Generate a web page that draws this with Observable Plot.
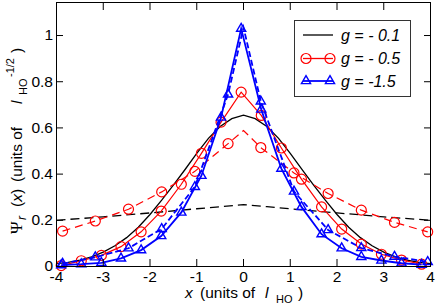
<!DOCTYPE html>
<html><head><meta charset="utf-8">
<script src="https://cdn.jsdelivr.net/npm/d3@7"></script>
<script src="https://cdn.jsdelivr.net/npm/@observablehq/plot@0.6"></script>
<style>body{margin:0;background:#fff} #chart{width:436px;height:306px}</style>
</head><body><div id="chart"></div>
<script>
// ---- data ----
const xTicks = [-4, -3, -2, -1, 0, 1, 2, 3, 4];
const xTickLabels = ["-4", "-3", "-2", "-1", "0", "1", "2", "3", "4"];
const yTicks = [0, 0.2, 0.4, 0.6, 0.8, 1];
const yTickLabels = ["0", "0.2", "0.4", "0.6", "0.8", "1"];

// g = -0.1 (black)
const blackX = [-4, -3.75, -3.5, -3.25, -3, -2.75, -2.5, -2.25, -2, -1.75, -1.5, -1.25, -1, -0.75, -0.5, -0.25, 0,
                0.25, 0.5, 0.75, 1, 1.25, 1.5, 1.75, 2, 2.25, 2.5, 2.75, 3, 3.25, 3.5, 3.75, 4];
const blackSolidY = [0.012, 0.018, 0.028, 0.042, 0.062, 0.09, 0.125, 0.17, 0.225, 0.287, 0.352, 0.42, 0.49, 0.555, 0.606, 0.64, 0.655,
                     0.64, 0.606, 0.555, 0.49, 0.42, 0.352, 0.287, 0.225, 0.17, 0.125, 0.09, 0.062, 0.042, 0.028, 0.018, 0.012];
const blackDashX = [-4, -3, -2, -1, -0.5, 0, 0.5, 1, 2, 3, 4];
const blackDashY = [0.2, 0.215, 0.232, 0.25, 0.259, 0.268, 0.259, 0.25, 0.232, 0.215, 0.2];

// grid of the solid curves with markers
const solidX = [-3.9, -3.47, -3.04, -2.62, -2.19, -1.76, -1.33, -0.9, -0.48, -0.05, 0.38, 0.81, 1.24, 1.67, 2.1, 2.52, 2.95, 3.38, 3.81];
const redSolidY = [0.004, 0.025, 0.048, 0.086, 0.15, 0.24, 0.356, 0.49, 0.625, 0.755, 0.654, 0.513, 0.378, 0.258, 0.162, 0.097, 0.053, 0.028, 0.01];
const blueSolidY = [0.006, 0.01, 0.016, 0.035, 0.071, 0.132, 0.234, 0.393, 0.645, 1.03, 0.68, 0.424, 0.258, 0.14, 0.079, 0.042, 0.026, 0.014, 0.008];

// grid of the dashed curves with markers
const dashX = [-3.87, -3.17, -2.46, -1.75, -1.04, -0.33, 0.37, 1.08, 1.81, 2.52, 3.23, 3.94];
const redDashY = [0.153, 0.197, 0.248, 0.323, 0.412, 0.532, 0.515, 0.405, 0.316, 0.244, 0.191, 0.15];
const blueDashY = [0.012, 0.04, 0.079, 0.163, 0.345, 0.745, 0.715, 0.325, 0.158, 0.08, 0.043, 0.02];
const dashPeakX = 0;
const redDashPeakY = 0.589;
const blueDashPeakY = 1.035;

const legendLabels = ["g = - 0.1", "g = - 0.5", "g = -1.5"];
const legendColors = ["black", "#ff0000", "#0000ff"];
const legendSymbols = [null, "circle", "triangle"];

// ---- tables ----
const pts = (xs, ys) => xs.map((x, i) => ({x, y: ys[i]}));
const withPeak = (xs, ys, px, py) => pts(xs, ys).concat([{x: px, y: py}]).sort((a, b) => a.x - b.x);

const blackSolid = pts(blackX, blackSolidY);
const blackDash = pts(blackDashX, blackDashY);
const redSolid = pts(solidX, redSolidY);
const blueSolid = pts(solidX, blueSolidY);
const redDashM = pts(dashX, redDashY);
const blueDashM = pts(dashX, blueDashY);
const redDashL = withPeak(dashX, redDashY, dashPeakX, redDashPeakY);
const blueDashL = withPeak(dashX, blueDashY, dashPeakX, blueDashPeakY);

const RED = legendColors[1], BLUE = legendColors[2];
const lineOpts = {x: "x", y: "y", strokeLinejoin: "miter", strokeMiterlimit: 12, strokeLinecap: "butt"};

const plot = Plot.plot({
  width: 436, height: 306,
  marginLeft: 56, marginRight: 6, marginTop: 2, marginBottom: 40,
  x: {domain: [-4, 4]},
  y: {domain: [0, 1.143]},
  style: {fontFamily: "'Liberation Sans', Arial, sans-serif", fontSize: "15.5px", background: "white", color: "black"},
  marks: [
    Plot.line(blackDash, {...lineOpts, stroke: "black", strokeWidth: 1.3, strokeDasharray: "9,5"}),
    Plot.line(blackSolid, {...lineOpts, stroke: "black", strokeWidth: 1.3}),
    Plot.line(redDashL, {...lineOpts, stroke: RED, strokeWidth: 1.2, strokeDasharray: "8,5"}),
    Plot.dot(redDashM, {x: "x", y: "y", symbol: "circle", r: 5, stroke: RED, strokeWidth: 1.2, fill: "none"}),
    Plot.line(redSolid, {...lineOpts, stroke: RED, strokeWidth: 1.2}),
    Plot.dot(redSolid, {x: "x", y: "y", symbol: "circle", r: 5, stroke: RED, strokeWidth: 1.2, fill: "none"}),
    Plot.line(blueDashL, {...lineOpts, stroke: BLUE, strokeWidth: 1.8, strokeDasharray: "6,3"}),
    Plot.dot(blueDashM, {x: "x", y: "y", symbol: "triangle", r: 3.4, stroke: BLUE, strokeWidth: 1.4, fill: "none"}),
    Plot.line(blueSolid, {...lineOpts, stroke: BLUE, strokeWidth: 1.8}),
    Plot.dot(blueSolid, {x: "x", y: "y", symbol: "triangle", r: 3.4, stroke: BLUE, strokeWidth: 1.4, fill: "none"}),
    Plot.frame({stroke: "black", strokeWidth: 1}),
    Plot.axisX({anchor: "bottom", ticks: xTicks, tickSize: -7, tickPadding: 11.5, label: null,
                tickFormat: d => xTickLabels[xTicks.indexOf(d)], fontSize: 15.5}),
    Plot.axisX({anchor: "top", ticks: xTicks, tickSize: -7, label: null, tickFormat: () => ""}),
    Plot.axisY({anchor: "left", ticks: yTicks, tickSize: -7, tickPadding: 10.5, label: null,
                tickFormat: d => yTickLabels[yTicks.indexOf(d)], fontSize: 15.5}),
    Plot.axisY({anchor: "right", ticks: yTicks, tickSize: -7, label: null, tickFormat: () => ""})
  ]
});

const svg = d3.select(plot);
const FONT = "'Liberation Sans', Arial, sans-serif";

// legend
const lg = svg.append("g").attr("font-family", FONT).attr("text-anchor", "start");
lg.append("rect").attr("x", 294.5).attr("y", 20.5).attr("width", 116).attr("height", 76)
  .attr("fill", "white").attr("stroke", "#333").attr("stroke-width", 1);
const rowsY = [35, 58.5, 81];
legendLabels.forEach((lab, i) => {
  const y = rowsY[i];
  lg.append("line").attr("x1", 303).attr("x2", 333).attr("y1", y).attr("y2", y)
    .attr("stroke", legendColors[i]).attr("stroke-width", i === 2 ? 1.8 : 1.3);
  if (legendSymbols[i]) {
    const sym = legendSymbols[i] === "circle" ? d3.symbolCircle : d3.symbolTriangle;
    const r = legendSymbols[i] === "circle" ? 5 : 3.4;
    [306, 330].forEach(cx => {
      lg.append("path").attr("d", d3.symbol(sym, Math.PI * r * r)())
        .attr("transform", `translate(${cx},${y})`)
        .attr("fill", "none").attr("stroke", legendColors[i]).attr("stroke-width", i === 2 ? 1.4 : 1.2);
    });
  }
  lg.append("text").attr("x", 341).attr("y", y).attr("dy", "0.36em")
    .attr("font-size", 16).attr("font-style", "italic").attr("fill", "black").text(lab);
});

// x axis title
const xt = svg.append("text").attr("font-family", FONT).attr("font-size", 15.5).attr("fill", "black")
  .attr("text-anchor", "start").attr("y", 298);
xt.append("tspan").attr("x", 185).attr("font-style", "italic").text("x");
xt.append("tspan").attr("x", 200).text("(units of");
xt.append("tspan").attr("x", 265).attr("font-style", "italic").text("l");
xt.append("tspan").attr("x", 276).attr("dy", 5).attr("font-size", 11).text("HO");
xt.append("tspan").attr("x", 298).attr("dy", -5).text(")");

// y axis title (rotated)
const yt = svg.append("text").attr("font-family", FONT).attr("font-size", 15.5).attr("fill", "black")
  .attr("text-anchor", "start").attr("transform", "rotate(-90)").attr("y", 22);
yt.append("tspan").attr("x", -234).attr("font-family", "'Liberation Serif', 'DejaVu Serif', serif").attr("font-size", 17).text("Ψ");
yt.append("tspan").attr("x", -220).attr("dy", 4).attr("font-size", 12).attr("font-style", "italic").text("r");
yt.append("tspan").attr("x", -207).attr("dy", -4).text("(");
yt.append("tspan").attr("font-style", "italic").text("x");
yt.append("tspan").text(")");
yt.append("tspan").attr("x", -182).text("(units of");
yt.append("tspan").attr("x", -104).attr("font-style", "italic").text("l");
yt.append("tspan").attr("x", -95).attr("dy", 5).attr("font-size", 11).text("HO");
yt.append("tspan").attr("x", -77).attr("dy", -13).attr("font-size", 11).text("-1/2");
yt.append("tspan").attr("x", -53).attr("dy", 8).text(")");

document.getElementById("chart").appendChild(plot);
</script>
</body></html>
